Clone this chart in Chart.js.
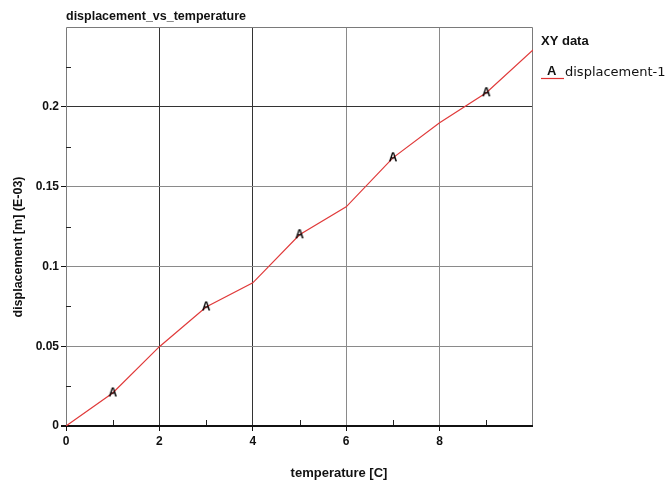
<!DOCTYPE html>
<html>
<head>
<meta charset="utf-8">
<script src="https://cdn.jsdelivr.net/npm/chart.js@4"></script>
<style>
  body { margin: 0; background: #fff; }
  #wrap { width: 669px; height: 481px; position: relative; }
</style>
</head>
<body>
<div id="wrap"><canvas id="myChart"></canvas></div>
<script>
"use strict";
// values
const temperature = [0, 1, 2, 3, 4, 5, 6, 7, 8, 9, 10];
const displacement = [0, 0.0207, 0.0497, 0.0746, 0.0897, 0.1198, 0.1373, 0.168, 0.19, 0.2088, 0.2357];
const markerAt = [1, 3, 5, 7, 9];
const xMinor = [1, 3, 5, 7, 9];
const yMinor = [0.025, 0.075, 0.125, 0.175, 0.225];

const chartTitle = "displacement_vs_temperature";
const xTitle = "temperature [C]";
const yTitle = "displacement [m] (E-03)";
const legendTitle = "XY data";
const seriesName = "displacement-1";

const FONT = "'Liberation Sans', Arial, sans-serif";
const ctx = document.getElementById("myChart");

// "A" marker drawn once to a small canvas, used as point style
function makeMarker() {
  const c = document.createElement("canvas");
  c.width = 12;
  c.height = 13;
  const g = c.getContext("2d");
  g.fillStyle = "#000";
  g.font = "bold 12px " + FONT;
  g.textAlign = "center";
  g.textBaseline = "middle";
  g.fillText("A", 6, 7);
  return c;
}
const markA = makeMarker();

const points = temperature.map((t, i) => ({ x: t, y: displacement[i] }));
const radii = temperature.map((t) => (markerAt.includes(t) ? 5 : 0));

function near(a, b) {
  return Math.abs(a - b) < 1e-6;
}

const framePlugin = {
  id: "frame",
  beforeDatasetsDraw(chart) {
    const c = chart.ctx;
    const a = chart.chartArea;
    const xs = chart.scales.x;
    const ys = chart.scales.y;
    c.save();
    // frame
    c.strokeStyle = "#7a7a7a";
    c.lineWidth = 1;
    c.beginPath();
    c.moveTo(a.left + 0.5, a.bottom);
    c.lineTo(a.left + 0.5, a.top + 0.5);
    c.lineTo(a.right - 0.5, a.top + 0.5);
    c.lineTo(a.right - 0.5, a.bottom);
    c.stroke();
    // minor ticks pointing inside
    c.strokeStyle = "#222";
    c.beginPath();
    xMinor.forEach((v) => {
      const px = Math.round(xs.getPixelForValue(v)) + 0.5;
      c.moveTo(px, a.bottom);
      c.lineTo(px, a.bottom - 6);
    });
    yMinor.forEach((v) => {
      const py = Math.round(ys.getPixelForValue(v)) + 0.5;
      c.moveTo(a.left, py);
      c.lineTo(a.left + 5, py);
    });
    c.stroke();
    // bottom axis
    c.strokeStyle = "#111";
    c.lineWidth = 2;
    c.beginPath();
    c.moveTo(a.left - 5, a.bottom);
    c.lineTo(a.right, a.bottom);
    c.stroke();
    c.restore();
  },
  afterDraw(chart) {
    const c = chart.ctx;
    const a = chart.chartArea;
    c.save();
    c.fillStyle = "#111";
    c.textBaseline = "alphabetic";
    c.textAlign = "left";
    c.font = "bold 12.5px " + FONT;
    c.fillText(chartTitle, a.left, 20);
    c.font = "bold 13px " + FONT;
    c.fillText(legendTitle, 541, 45);
    c.font = "13px 'DejaVu Sans', sans-serif";
    c.fillText(seriesName, 565, 76);
    c.font = "bold 13px " + FONT;
    c.fillText("A", 547, 75);
    c.strokeStyle = "#e03030";
    c.lineWidth = 1.2;
    c.beginPath();
    c.moveTo(541, 78.5);
    c.lineTo(564, 78.5);
    c.stroke();
    // axis titles
    c.font = "bold 13px " + FONT;
    c.textAlign = "center";
    c.fillText(xTitle, 339, 477);
    c.translate(22, 247);
    c.rotate(-Math.PI / 2);
    c.font = "bold 12.5px " + FONT;
    c.fillText(yTitle, 0, 0);
    c.restore();
  },
};

const myChart = new Chart(ctx, {
  type: "line",
  data: {
    datasets: [
      {
        label: seriesName,
        data: points,
        borderColor: "#e03a3a",
        borderWidth: 1.2,
        tension: 0,
        pointStyle: markA,
        pointRadius: radii,
        pointHoverRadius: radii,
      },
    ],
  },
  options: {
    responsive: true,
    maintainAspectRatio: false,
    animation: false,
    devicePixelRatio: 1,
    layout: { padding: { top: 27, right: 136, left: 0, bottom: 0 } },
    plugins: {
      legend: { display: false },
      title: { display: false },
      tooltip: { enabled: false },
    },
    scales: {
      x: {
        type: "linear",
        min: 0,
        max: 10,
        afterFit: (scale) => {
          scale.height = 55;
        },
        border: { display: false },
        grid: {
          color: (c) => {
            const v = c.tick && c.tick.value;
            if (v === 2 || v === 4) return "#333";
            if (v === 6 || v === 8) return "#8a8a8a";
            return "rgba(0,0,0,0)";
          },
          tickColor: (c) => {
            const v = c.tick && c.tick.value;
            return v % 2 === 0 && v < 10 ? "#111" : "rgba(0,0,0,0)";
          },
          tickLength: 5,
          lineWidth: 1,
        },
        ticks: {
          stepSize: 1,
          autoSkip: false,
          maxRotation: 0,
          padding: 3,
          color: "#111",
          font: { family: FONT, size: 12, weight: "bold" },
          callback: (v) => (v % 2 === 0 && v < 10 ? String(v) : ""),
        },
      },
      y: {
        type: "linear",
        min: 0,
        max: 0.25,
        afterFit: (scale) => {
          scale.width = 66;
        },
        border: { display: false },
        grid: {
          color: (c) => {
            const v = c.tick && c.tick.value;
            if (near(v, 0.2)) return "#333";
            if (near(v, 0.05) || near(v, 0.1) || near(v, 0.15)) return "#8a8a8a";
            return "rgba(0,0,0,0)";
          },
          tickColor: (c) => {
            const v = c.tick && c.tick.value;
            const m = Math.round(v * 1000);
            return m % 50 === 0 && m < 250 ? "#111" : "rgba(0,0,0,0)";
          },
          tickLength: 5,
          lineWidth: 1,
        },
        ticks: {
          stepSize: 0.025,
          autoSkip: false,
          padding: 2,
          color: "#111",
          font: { family: FONT, size: 12, weight: "bold" },
          callback: (v) => {
            const m = Math.round(v * 1000);
            return m % 50 === 0 && m < 250 ? String(m / 1000) : "";
          },
        },
      },
    },
  },
  plugins: [framePlugin],
});
</script>
</body>
</html>
